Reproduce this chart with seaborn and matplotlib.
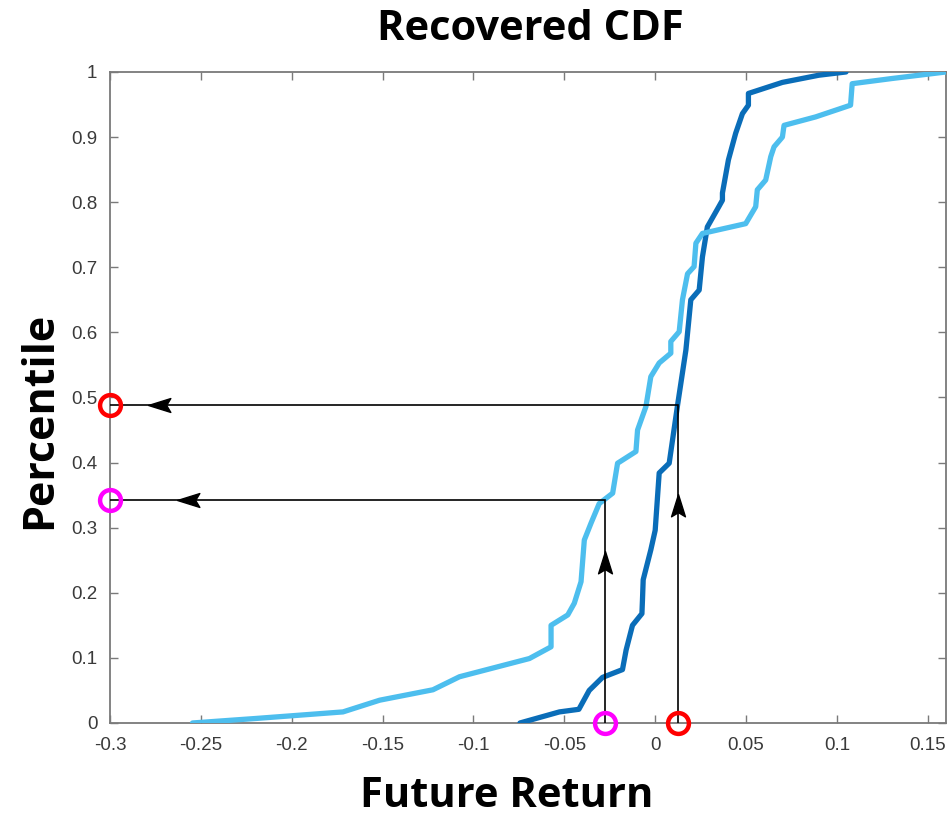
import numpy as np
import pandas as pd
import matplotlib
matplotlib.use("Agg")
import matplotlib.pyplot as plt
from matplotlib.path import Path
from matplotlib.markers import MarkerStyle
import seaborn as sns

# Recovered distribution (dark) and reference distribution (light)
dark_x = [-0.0744, -0.0527, -0.042, -0.0363, -0.029, -0.018, -0.016, -0.0125, -0.0073,
          -0.007, -0.0066, -0.0024, 0.0, 0.0022, 0.0077, 0.0123, 0.0169, 0.0196, 0.0242,
          0.026, 0.0287, 0.035, 0.037, 0.037, 0.0403, 0.0443, 0.048, 0.0513, 0.0513,
          0.07, 0.09, 0.105]
dark_y = [0.0, 0.017, 0.021, 0.05, 0.07, 0.082, 0.112, 0.15, 0.168,
          0.189, 0.22, 0.266, 0.296, 0.384, 0.399, 0.488, 0.573, 0.65, 0.665,
          0.716, 0.762, 0.793, 0.803, 0.814, 0.865, 0.906, 0.936, 0.949, 0.967,
          0.984, 0.995, 1.0]

light_x = [-0.2546, -0.2194, -0.1718, -0.1516, -0.1223, -0.1077, -0.0692, -0.0573, -0.0573,
           -0.0481, -0.0445, -0.0408, -0.039, -0.0353, -0.0308, -0.0234, -0.0207, -0.0106,
           -0.0097, -0.0051, -0.0024, 0.0022, 0.0086, 0.0086, 0.0132, 0.015, 0.0178, 0.0214,
           0.0224, 0.026, 0.0498, 0.0553, 0.0562, 0.0608, 0.0636, 0.0654, 0.07, 0.0709,
           0.0883, 0.1075, 0.1084, 0.1304, 0.16]
light_y = [0.0, 0.007, 0.017, 0.035, 0.051, 0.071, 0.099, 0.117, 0.15,
           0.166, 0.184, 0.217, 0.281, 0.307, 0.337, 0.353, 0.399, 0.417,
           0.45, 0.486, 0.532, 0.553, 0.568, 0.586, 0.601, 0.65, 0.69, 0.701,
           0.737, 0.752, 0.767, 0.793, 0.819, 0.834, 0.87, 0.885, 0.9, 0.918,
           0.931, 0.949, 0.982, 0.99, 1.0]

# Two sample returns and their percentiles
sample_returns = [0.0123, -0.0275]
sample_pcts = [0.488, 0.3425]
sample_colors = ["#ff0000", "#ff00ff"]
horiz_arrow_x = [-0.2715, -0.2555]
vert_arrow_y = [0.330, 0.243]

x_ticks = [-0.3, -0.25, -0.2, -0.15, -0.1, -0.05, 0, 0.05, 0.1, 0.15]
x_tick_labels = ["-0.3", "-0.25", "-0.2", "-0.15", "-0.1", "-0.05", "0", "0.05", "0.1", "0.15"]
y_ticks = [0, 0.1, 0.2, 0.3, 0.4, 0.5, 0.6, 0.7, 0.8, 0.9, 1]
y_tick_labels = ["0", "0.1", "0.2", "0.3", "0.4", "0.5", "0.6", "0.7", "0.8", "0.9", "1"]

sns.set_style("white")
plt.rcParams["font.family"] = ["Liberation Sans", "DejaVu Sans"]

fig = plt.figure(figsize=(9.49, 8.16), dpi=100)
ax = fig.add_axes([0.1159, 0.114, 0.8809, 0.7978])

dark_df = pd.DataFrame({"ret": dark_x, "pct": dark_y})
light_df = pd.DataFrame({"ret": light_x, "pct": light_y})
sns.lineplot(data=dark_df, x="ret", y="pct", sort=False, estimator=None,
             color="#0a6db8", linewidth=3.8, ax=ax, zorder=3)
sns.lineplot(data=light_df, x="ret", y="pct", sort=False, estimator=None,
             color="#4dbeee", linewidth=3.8, ax=ax, zorder=3)
ax.set_xlabel("")
ax.set_ylabel("")

# Guide lines from each return up to the curve and across to the percentile axis
for r, p in zip(sample_returns, sample_pcts):
    ax.plot([r, r, -0.3], [0, p, p], color="black", linewidth=1.2, zorder=4,
            solid_joinstyle="miter")

# Stealth-style arrow heads
up_head = Path([(0, 1), (0.5, -0.6), (0, -0.3), (-0.5, -0.6), (0, 1)],
               [Path.MOVETO, Path.LINETO, Path.LINETO, Path.LINETO, Path.CLOSEPOLY])
left_head = Path([(-1, 0), (0.6, 0.5), (0.3, 0), (0.6, -0.5), (-1, 0)],
                 [Path.MOVETO, Path.LINETO, Path.LINETO, Path.LINETO, Path.CLOSEPOLY])
for r, p, ax_x, ay in zip(sample_returns, sample_pcts, horiz_arrow_x, vert_arrow_y):
    ax.plot([ax_x], [p], marker=MarkerStyle(left_head), markersize=20,
            color="black", linestyle="none", zorder=5)
    ax.plot([r], [ay], marker=MarkerStyle(up_head), markersize=20,
            color="black", linestyle="none", zorder=5)

# Circles marking the sample points on both axes
for r, p, c in zip(sample_returns, sample_pcts, sample_colors):
    ax.plot([r, -0.3], [0, p], marker="o", markersize=15, markerfacecolor="none",
            markeredgecolor=c, markeredgewidth=3.2, linestyle="none",
            clip_on=False, zorder=6)

ax.set_xlim(-0.3, 0.16)
ax.set_ylim(0, 1)
ax.set_xticks(x_ticks)
ax.set_xticklabels(x_tick_labels)
ax.set_yticks(y_ticks)
ax.set_yticklabels(y_tick_labels)
ax.tick_params(direction="in", length=6, width=1, color="#7a7a7a",
               labelsize=13.5, labelcolor="#3a3a3a", top=True, right=True,
               bottom=True, left=True, pad=10)
ax.tick_params(axis="y", pad=9)
for s in ax.spines.values():
    s.set_color("#7a7a7a")
    s.set_linewidth(1.3)
    s.set_visible(True)

label_font = dict(family=["Open Sans", "DejaVu Sans"], fontweight="bold", color="black")
fig.text(530 / 949, 1 - 40 / 816, "Recovered CDF", fontsize=30, ha="center",
         va="baseline", **label_font)
fig.text(507 / 949, 1 - 807 / 816, "Future Return", fontsize=30, ha="center",
         va="baseline", **label_font)
fig.text(51 / 949, 1 - 420 / 816, "Percentile", fontsize=31, ha="center",
         va="baseline", rotation=90, rotation_mode="anchor", **label_font)

fig.savefig("out.png", dpi=100)
